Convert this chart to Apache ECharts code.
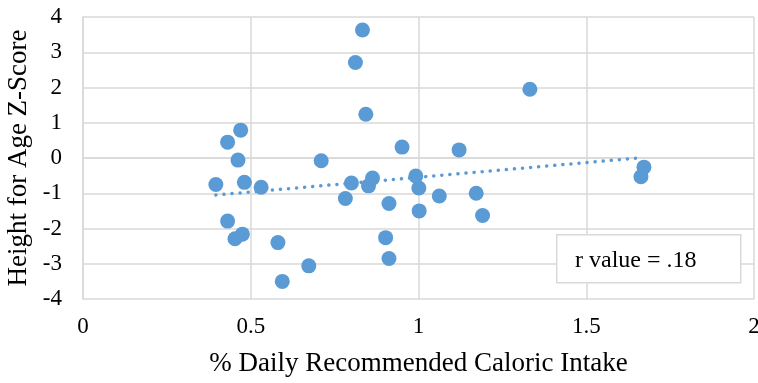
<!DOCTYPE html>
<html>
<head>
<meta charset="utf-8">
<script src="https://cdn.jsdelivr.net/npm/echarts@6/dist/echarts.min.js"></script>
<style>html,body{margin:0;padding:0;background:#fff}#c{width:758px;height:383px}</style>
</head>
<body>
<div id="c"></div>
<script>
const xValues = [0.833,0.812,0.843,0.470,0.431,0.462,0.710,0.396,0.481,0.531,0.800,0.863,0.851,0.782,0.431,0.453,0.475,0.581,0.673,0.594,1.332,0.951,1.121,1.672,1.663,0.992,1.001,0.912,1.002,1.062,1.172,1.191,0.902,0.912];
const yValues = [3.63,2.71,1.24,0.79,0.45,-0.06,-0.08,-0.75,-0.69,-0.83,-0.71,-0.57,-0.79,-1.15,-1.79,-2.29,-2.16,-2.40,-3.06,-3.50,1.95,0.31,0.23,-0.26,-0.53,-0.51,-0.85,-1.29,-1.50,-1.08,-1.00,-1.63,-2.26,-2.85];
const trendX = [0.396, 1.655];
const trendY = [-1.05, 0.0];
const xTitle = '% Daily Recommended Caloric Intake';
const yTitle = 'Height for Age Z-Score';
const note = 'r value = .18';

const font = 'Liberation Serif, Times New Roman, serif';
const points = xValues.map((x, i) => [x, yValues[i]]);
const trend = trendX.map((x, i) => [x, trendY[i]]);

const chart = echarts.init(document.getElementById('c'), null, {renderer: 'canvas'});
chart.setOption({
  animation: false,
  grid: {left: 83, right: 4, top: 17, bottom: 84, containLabel: false, outerBoundsMode: 'none'},
  xAxis: {
    type: 'value', min: 0, max: 2, interval: 0.5,
    name: xTitle, nameLocation: 'middle', nameGap: 51,
    nameTextStyle: {fontFamily: font, fontSize: 27, color: '#000'},
    axisLine: {show: true, lineStyle: {color: '#d9d9d9', width: 1.5}},
    axisTick: {show: false},
    axisLabel: {fontFamily: font, fontSize: 23, color: '#000', margin: 16},
    splitLine: {show: true, lineStyle: {color: '#d9d9d9', width: 1.5}}
  },
  yAxis: {
    type: 'value', min: -4, max: 4, interval: 1,
    name: yTitle, nameLocation: 'middle', nameGap: 46,
    nameTextStyle: {fontFamily: font, fontSize: 27, color: '#000'},
    axisLine: {show: true, lineStyle: {color: '#d9d9d9', width: 1.5}},
    axisTick: {show: false},
    axisLabel: {fontFamily: font, fontSize: 23, color: '#000', margin: 21},
    splitLine: {show: true, lineStyle: {color: '#d9d9d9', width: 1.5}}
  },
  series: [
    {
      type: 'line', data: trend, showSymbol: false, symbol: 'none',
      lineStyle: {color: '#5B9BD5', width: 3.5, type: [0.1, 8], cap: 'round'},
      z: 3
    },
    {
      type: 'scatter', data: points, symbolSize: 15,
      itemStyle: {color: '#5B9BD5', opacity: 1},
      z: 4
    }
  ],
  graphic: [
    {type: 'rect', left: 556, top: 234, z: 100,
     shape: {x: 0, y: 0, width: 184, height: 48},
     style: {fill: '#fff', stroke: '#d9d9d9', lineWidth: 1.5}},
    {type: 'text', left: 575, top: 249, z: 101,
     style: {text: note, fontFamily: font, fontSize: 24, fill: '#000'}}
  ]
});
</script>
</body>
</html>
